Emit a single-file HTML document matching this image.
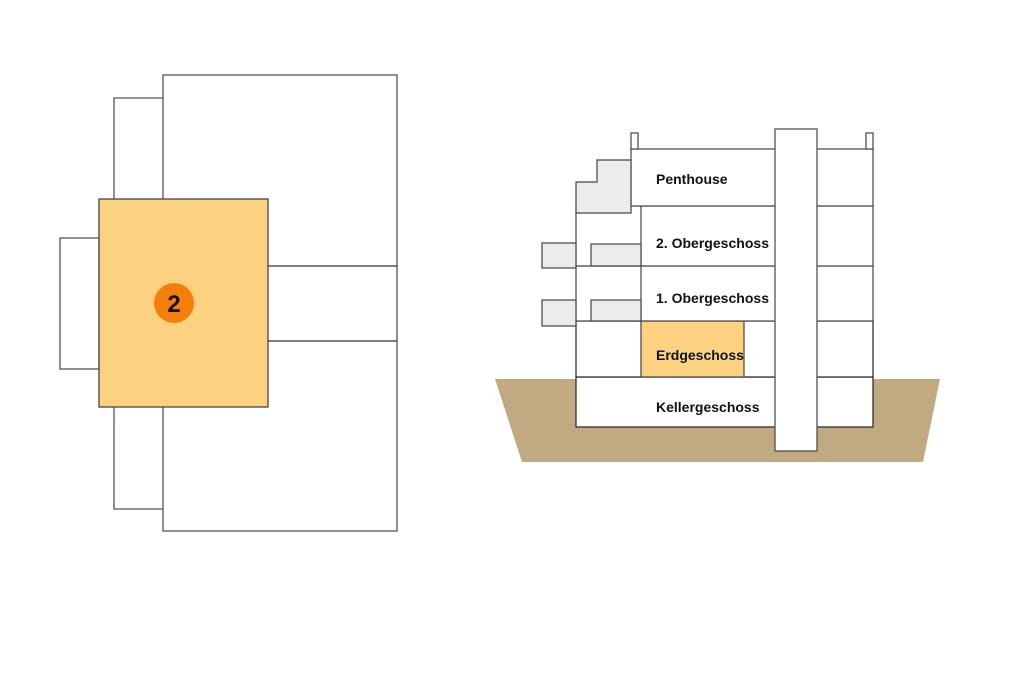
<!DOCTYPE html>
<html><head><style>body{margin:0;background:#fff}</style></head><body>
<svg width="1030" height="687" viewBox="0 0 1030 687" xmlns="http://www.w3.org/2000/svg" font-family="Liberation Sans, sans-serif">
<rect width="1030" height="687" fill="#fff"/>
<!-- Left plan -->
<g fill="none" stroke="#555" stroke-width="1.3">
<rect x="163" y="75" width="234" height="456" fill="#fff"/>
<polyline points="114,199 114,98 163,98"/>
<polyline points="114,407 114,509 163,509"/>
<rect x="60" y="238" width="39" height="131"/>
<line x1="268" y1="266" x2="397" y2="266" stroke="#333"/>
<line x1="268" y1="341" x2="397" y2="341" stroke="#333"/>
</g>
<rect x="99" y="199" width="169" height="208" fill="#fcd17f" stroke="#444" stroke-width="1.3"/>
<circle cx="174" cy="303" r="20" fill="#f57f0a"/>
<text x="174" y="312" text-anchor="middle" font-size="24" font-weight="bold" fill="#111">2</text>
<!-- Ground -->
<polygon points="495,379 940,379 923,462 522,462" fill="#c1aa82"/>
<g stroke="#444" stroke-width="1.2">
<rect x="576" y="377" width="297" height="50" fill="#fff" stroke="#222"/>
<rect x="576" y="321" width="297" height="56" fill="#fff" stroke="#222"/>
<rect x="641" y="321" width="103" height="56" fill="#fcd17f"/>
<rect x="576" y="266" width="297" height="55" fill="#fff"/>
<rect x="576" y="206" width="297" height="60" fill="#fff"/>
<line x1="641" y1="206" x2="641" y2="321"/>
<rect x="631" y="149" width="242" height="57" fill="#fff"/>
<rect x="631" y="133" width="7" height="16" fill="#fff"/>
<rect x="866" y="133" width="7" height="16" fill="#fff"/>
<polygon points="576,182 597,182 597,160 631,160 631,213 576,213" fill="#ececec"/>
<rect x="542" y="243" width="34" height="25" fill="#ececec"/>
<rect x="591" y="244" width="50" height="22" fill="#ececec"/>
<rect x="542" y="300" width="34" height="26" fill="#ececec"/>
<rect x="591" y="300" width="50" height="21" fill="#ececec"/>
<rect x="775" y="129" width="42" height="322" fill="#fff"/>
</g>
<g font-size="14" font-weight="bold" fill="#111">
<text x="656" y="184">Penthouse</text>
<text x="656" y="248" textLength="113">2. Obergeschoss</text>
<text x="656" y="303" textLength="113">1. Obergeschoss</text>
<text x="656" y="360">Erdgeschoss</text>
<text x="656" y="412">Kellergeschoss</text>
</g>
</svg>
</body></html>
